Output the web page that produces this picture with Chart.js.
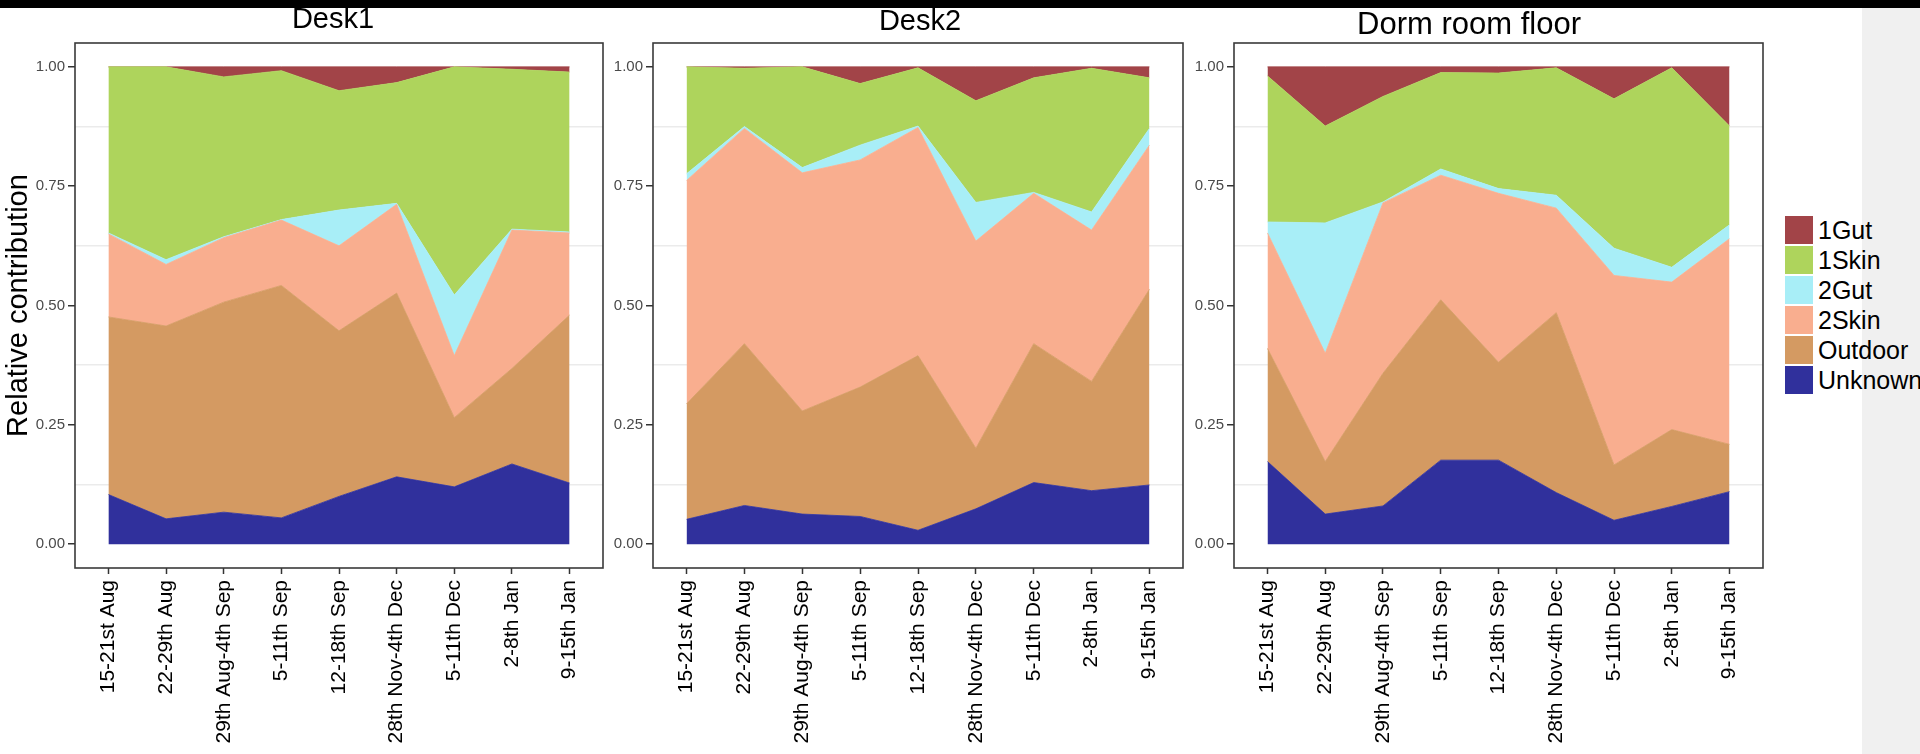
<!DOCTYPE html>
<html>
<head>
<meta charset="utf-8">
<script src="https://cdn.jsdelivr.net/npm/chart.js@4.4.1/dist/chart.umd.min.js"></script>
<style>
  html, body { margin: 0; padding: 0; background: #ffffff; }
  body { width: 1920px; height: 754px; position: relative; overflow: hidden;
         font-family: "Liberation Sans", Arial, Helvetica, sans-serif; }
  .topbar { position: absolute; left: 0; top: 0; width: 1920px; height: 8px; background: #000; z-index: 6; }
  .sideband { position: absolute; left: 1862px; top: 0; width: 58px; height: 754px; background: #f0f0f0; z-index: 1; }
  canvas { position: absolute; top: 0; z-index: 2; }
  .ptitle { position: absolute; white-space: nowrap; transform: translateX(-50%);
            color: #000; line-height: 1; z-index: 3; }
  .legend { position: absolute; left: 1785px; top: 215px; z-index: 4; }
  .legend .item { display: flex; align-items: center; height: 30px; }
  .legend .key { width: 28px; height: 28px; margin-right: 5px; flex: none; }
  .legend .lab { font-size: 25px; color: #000; white-space: nowrap; }
</style>
</head>
<body>
<div class="topbar"></div>
<div class="sideband"></div>
<canvas id="desk1" width="613" height="754" style="left:0px"></canvas>
<canvas id="desk2" width="580" height="754" style="left:613px"></canvas>
<canvas id="dorm" width="580" height="754" style="left:1193px"></canvas>
<div class="ptitle" id="t-desk1" style="left:333px; top:4px; font-size:29px;">Desk1</div>
<div class="ptitle" id="t-desk2" style="left:920px; top:6px; font-size:29px;">Desk2</div>
<div class="ptitle" id="t-dorm" style="left:1469px; top:8px; font-size:31px;">Dorm room floor</div>
<div class="legend" id="legend"></div>

<script>
// Sampling weeks (x axis)
const categories = ['15-21st Aug', '22-29th Aug', '29th Aug-4th Sep', '5-11th Sep', '12-18th Sep',
                    '28th Nov-4th Dec', '5-11th Dec', '2-8th Jan', '9-15th Jan'];

// Sources, bottom of the stack first
const seriesNames  = ['Unknown', 'Outdoor', '2Skin', '2Gut', '1Skin', '1Gut'];
const seriesColors = ['#30309c', '#d49a62', '#f9ae8f', '#a8eef7', '#aed45c', '#a24448'];

// y axis
const yTickValues = [0, 0.25, 0.5, 0.75, 1];
const yGridValues = [0, 0.125, 0.25, 0.375, 0.5, 0.625, 0.75, 0.875, 1];

// Desk1 relative contributions
const desk1Unknown = [0.104, 0.053, 0.067, 0.055, 0.100, 0.141, 0.120, 0.168, 0.128];
const desk1Outdoor = [0.372, 0.404, 0.440, 0.487, 0.347, 0.385, 0.145, 0.200, 0.352];
const desk1Skin2   = [0.174, 0.129, 0.135, 0.137, 0.178, 0.186, 0.130, 0.290, 0.172];
const desk1Gut2    = [0.002, 0.010, 0.002, 0.001, 0.075, 0.002, 0.127, 0.002, 0.002];
const desk1Skin1   = [0.348, 0.404, 0.335, 0.312, 0.250, 0.253, 0.478, 0.335, 0.335];
const desk1Gut1    = [0.000, 0.000, 0.021, 0.008, 0.050, 0.033, 0.000, 0.005, 0.011];

// Desk2 relative contributions
const desk2Unknown = [0.052, 0.081, 0.063, 0.058, 0.029, 0.074, 0.129, 0.112, 0.124];
const desk2Outdoor = [0.242, 0.339, 0.216, 0.271, 0.366, 0.127, 0.291, 0.229, 0.410];
const desk2Skin2   = [0.468, 0.451, 0.499, 0.476, 0.478, 0.434, 0.315, 0.317, 0.302];
const desk2Gut2    = [0.014, 0.004, 0.011, 0.031, 0.003, 0.081, 0.002, 0.038, 0.035];
const desk2Skin1   = [0.224, 0.122, 0.211, 0.129, 0.122, 0.213, 0.240, 0.301, 0.106];
const desk2Gut1    = [0.000, 0.003, 0.000, 0.035, 0.002, 0.071, 0.023, 0.003, 0.023];

// Dorm room floor relative contributions
const dormUnknown = [0.173, 0.063, 0.080, 0.176, 0.176, 0.108, 0.050, 0.079, 0.110];
const dormOutdoor = [0.237, 0.110, 0.278, 0.336, 0.205, 0.377, 0.116, 0.161, 0.099];
const dormSkin2   = [0.242, 0.227, 0.357, 0.261, 0.354, 0.219, 0.397, 0.309, 0.431];
const dormGut2    = [0.023, 0.273, 0.002, 0.013, 0.010, 0.027, 0.057, 0.031, 0.029];
const dormSkin1   = [0.306, 0.203, 0.221, 0.202, 0.242, 0.267, 0.313, 0.418, 0.207];
const dormGut1    = [0.019, 0.124, 0.062, 0.012, 0.013, 0.002, 0.067, 0.002, 0.124];

const FONT = '"Liberation Sans", Arial, Helvetica, sans-serif';
const isMajor = v => Math.abs(v * 4 - Math.round(v * 4)) < 1e-9;

// Frame around each panel
const panelBorder = {
  id: 'panelBorder',
  afterDraw(chart) {
    const { ctx, chartArea: a } = chart;
    ctx.save();
    ctx.strokeStyle = '#3a3a3a';
    ctx.lineWidth = 1.6;
    ctx.strokeRect(a.left, a.top, a.right - a.left, a.bottom - a.top);
    ctx.restore();
  }
};

function makePanel(canvasId, seriesValues, yAxisWidth, showYTitle) {
  const canvas = document.getElementById(canvasId);
  const datasets = seriesValues.map((values, i) => ({
    label: seriesNames[i],
    data: values.map((v, j) => ({ x: j, y: v })),
    backgroundColor: seriesColors[i],
    borderColor: seriesColors[i],
    borderWidth: 0.8,
    pointRadius: 0,
    pointHoverRadius: 0,
    tension: 0,
    fill: i === 0 ? 'origin' : '-1'
  }));

  return new Chart(canvas, {
    type: 'line',
    data: { datasets },
    plugins: [panelBorder],
    options: {
      responsive: false,
      animation: false,
      devicePixelRatio: 1,
      layout: { padding: { top: 43, right: 10, bottom: 0, left: 0 } },
      plugins: { legend: { display: false }, tooltip: { enabled: false }, title: { display: false } },
      scales: {
        x: {
          type: 'linear',
          min: -0.58,
          max: 8.58,
          afterBuildTicks(scale) { scale.ticks = categories.map((c, i) => ({ value: i })); },
          afterFit(scale) { scale.height = 186; },
          ticks: {
            callback: v => categories[v],
            autoSkip: false,
            minRotation: 90,
            maxRotation: 90,
            padding: 6,
            color: '#000',
            font: { family: FONT, size: 21 }
          },
          grid: { drawOnChartArea: false, drawTicks: true, tickLength: 6, tickColor: '#333', tickWidth: 1.5 },
          border: { display: false }
        },
        y: {
          type: 'linear',
          stacked: true,
          min: -0.05,
          max: 1.05,
          afterBuildTicks(scale) { scale.ticks = yGridValues.map(v => ({ value: v })); },
          afterFit(scale) { scale.width = yAxisWidth; },
          ticks: {
            callback: v => (yTickValues.some(t => Math.abs(t - v) < 1e-9) ? v.toFixed(2) : ''),
            padding: 3,
            color: '#4a4a4a',
            font: { family: FONT, size: 15 }
          },
          grid: {
            color: ctx => (isMajor(ctx.tick.value) ? 'rgba(0,0,0,0)' : '#ebebeb'),
            lineWidth: 1.5,
            drawTicks: true,
            tickLength: 7,
            tickColor: ctx => (isMajor(ctx.tick.value) ? '#333' : 'rgba(0,0,0,0)'),
            tickWidth: 1.5
          },
          border: { display: false },
          title: {
            display: showYTitle,
            text: 'Relative contribution',
            color: '#000',
            font: { family: FONT, size: 29 },
            padding: { top: 2, bottom: 0 }
          }
        }
      }
    }
  });
}

makePanel('desk1', [desk1Unknown, desk1Outdoor, desk1Skin2, desk1Gut2, desk1Skin1, desk1Gut1], 75, true);
makePanel('desk2', [desk2Unknown, desk2Outdoor, desk2Skin2, desk2Gut2, desk2Skin1, desk2Gut1], 40, false);
makePanel('dorm',  [dormUnknown,  dormOutdoor,  dormSkin2,  dormGut2,  dormSkin1,  dormGut1],  41, false);

// Shared legend, top of the stack first
const legend = document.getElementById('legend');
seriesNames.slice().reverse().forEach((name, k) => {
  const i = seriesNames.length - 1 - k;
  const item = document.createElement('div');
  item.className = 'item';
  const key = document.createElement('div');
  key.className = 'key';
  key.style.background = seriesColors[i];
  const lab = document.createElement('div');
  lab.className = 'lab';
  lab.textContent = name;
  item.appendChild(key);
  item.appendChild(lab);
  legend.appendChild(item);
});
</script>
</body>
</html>
